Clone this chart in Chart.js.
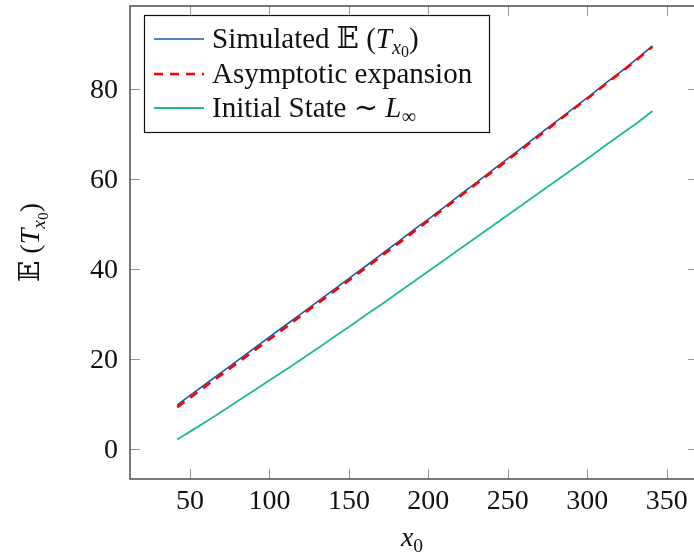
<!DOCTYPE html>
<html>
<head>
<meta charset="utf-8">
<script src="https://cdn.jsdelivr.net/npm/chart.js"></script>
<style>
  html, body { margin: 0; padding: 0; background: #fff; overflow: hidden; }
  #wrap { width: 704px; height: 554px; }
</style>
</head>
<body>
<div id="wrap"><canvas id="chart" width="704" height="554"></canvas></div>
<script>
// x0 values and the three curves
const x0 = [42, 52, 62, 72, 82, 92, 102, 112, 122, 132, 142, 152, 162, 172, 182, 192,
            202, 212, 222, 232, 242, 252, 262, 272, 282, 292, 302, 312, 322, 332, 341];
const simulated = [9.8, 12.4, 15.0, 17.6, 20.2, 22.8, 25.4, 28.0, 30.6, 33.2, 35.8, 38.4,
                   41.0, 43.7, 46.3, 49.0, 51.6, 54.3, 57.0, 59.7, 62.4, 65.1, 67.8, 70.5,
                   73.2, 75.9, 78.6, 81.4, 84.1, 86.9, 89.6];
const asymptotic = [9.3, 11.9, 14.5, 17.1, 19.7, 22.3, 24.9, 27.5, 30.2, 32.8, 35.4, 38.0,
                    40.6, 43.3, 45.9, 48.6, 51.3, 54.0, 56.7, 59.4, 62.1, 64.8, 67.5, 70.2,
                    73.0, 75.7, 78.4, 81.2, 83.9, 86.7, 89.4];
const initialState = [2.1, 4.3, 6.5, 8.8, 11.1, 13.4, 15.7, 18.0, 20.4, 22.8, 25.2, 27.6,
                      30.1, 32.5, 35.0, 37.5, 40.0, 42.5, 45.0, 47.5, 50.0, 52.5, 55.0, 57.5,
                      60.0, 62.5, 65.0, 67.6, 70.1, 72.6, 75.1];
const xTicks = [50, 100, 150, 200, 250, 300, 350];
const yTicks = [0, 20, 40, 60, 80];

const SERIF = '"Liberation Serif", "DejaVu Serif", serif';
const FS = 28;
let textSize = 29;

function pts(ys) { return x0.map((x, i) => ({ x: x, y: ys[i] })); }

// text pieces: {t, it (italic), sub (subscript level)}
function fontFor(p) {
  const size = p.sub === 2 ? textSize * 0.55 : p.sub ? textSize * 0.7 : textSize;
  return (p.it ? 'italic ' : '') + size + 'px ' + SERIF;
}
function richWidth(ctx, parts) {
  let w = 0;
  parts.forEach(p => { ctx.font = fontFor(p); w += ctx.measureText(p.t).width; });
  return w;
}
function drawRich(ctx, parts, x, y) {
  ctx.textBaseline = 'alphabetic';
  ctx.textAlign = 'left';
  parts.forEach(p => {
    ctx.font = fontFor(p);
    const dy = p.sub === 2 ? 9 : p.sub ? 6 : 0;
    ctx.fillText(p.t, x, y + dy);
    x += ctx.measureText(p.t).width;
  });
}

const ET = [{ t: '\u{1D53C}' }, { t: ' (' }, { t: 'T', it: true }, { t: 'x', it: true, sub: 1 },
            { t: '0', sub: 2 }, { t: ')' }];

const frame = {
  id: 'frame',
  afterDraw(chart) {
    const ctx = chart.ctx, a = chart.chartArea;
    const xs = chart.scales.x, ys = chart.scales.y;
    ctx.save();
    // inward ticks on all four sides
    ctx.strokeStyle = '#999';
    ctx.lineWidth = 1;
    ctx.beginPath();
    xTicks.forEach(v => {
      const px = Math.round(xs.getPixelForValue(v)) + 0.5;
      ctx.moveTo(px, a.bottom); ctx.lineTo(px, a.bottom - 10);
      ctx.moveTo(px, a.top); ctx.lineTo(px, a.top + 10);
    });
    yTicks.forEach(v => {
      const py = Math.round(ys.getPixelForValue(v)) + 0.5;
      ctx.moveTo(a.left, py); ctx.lineTo(a.left + 10, py);
      ctx.moveTo(a.right, py); ctx.lineTo(a.right - 10, py);
    });
    ctx.stroke();
    ctx.strokeStyle = '#333';
    ctx.lineWidth = 1.3;
    ctx.strokeRect(a.left, a.top, a.right - a.left, a.bottom - a.top);

    // legend
    const lx = 144, ly = 15, lw = 345, lh = 117;
    ctx.fillStyle = '#fff';
    ctx.fillRect(lx, ly, lw, lh);
    ctx.strokeStyle = '#111';
    ctx.lineWidth = 1.2;
    ctx.strokeRect(lx + 0.5, ly + 0.5, lw, lh);
    const rows = [
      { y: 39, color: '#1a5aa8', dash: [], w: 1.6, parts: [{ t: 'Simulated ' }].concat(ET) },
      { y: 74, color: '#ff0000', dash: [9, 7], w: 2.6, parts: [{ t: 'Asymptotic expansion' }] },
      { y: 108, color: '#1fbb88', dash: [], w: 1.8, parts: [{ t: 'Initial State \u223C ' },
        { t: 'L', it: true }, { t: '\u221E', sub: 1 }] }
    ];
    textSize = 29;
    rows.forEach(r => {
      ctx.strokeStyle = r.color;
      ctx.lineWidth = r.w;
      ctx.setLineDash(r.dash);
      ctx.beginPath();
      ctx.moveTo(154, r.y); ctx.lineTo(204, r.y);
      ctx.stroke();
      ctx.setLineDash([]);
      ctx.fillStyle = '#111';
      drawRich(ctx, r.parts, 212, r.y + 9);
    });

    // axis titles
    textSize = 28;
    ctx.fillStyle = '#111';
    const xt = [{ t: 'x', it: true }, { t: '0', sub: 1 }];
    drawRich(ctx, xt, (a.left + 694) / 2 - richWidth(ctx, xt) / 2, 546);
    ctx.translate(39, (a.top + a.bottom) / 2);
    ctx.rotate(-Math.PI / 2);
    drawRich(ctx, ET, -richWidth(ctx, ET) / 2, 0);
    ctx.restore();
  }
};

new Chart(document.getElementById('chart'), {
  type: 'line',
  data: {
    datasets: [
      { label: 'Simulated', data: pts(simulated), borderColor: '#1a5aa8', borderWidth: 1.6, order: 1 },
      { label: 'Asymptotic expansion', data: pts(asymptotic), borderColor: '#ff0000', borderWidth: 2.6,
        borderDash: [9, 7], order: 0 },
      { label: 'Initial State', data: pts(initialState), borderColor: '#1fbb88', borderWidth: 1.8, order: 2 }
    ]
  },
  options: {
    responsive: false,
    animation: false,
    devicePixelRatio: 1,
    elements: { point: { radius: 0 }, line: { tension: 0 } },
    layout: { padding: { top: 6, right: 6, left: 0, bottom: 0 } },
    plugins: { legend: { display: false }, tooltip: { enabled: false } },
    scales: {
      x: {
        type: 'linear', min: 12.24, max: 369.7,
        afterBuildTicks: s => { s.ticks = xTicks.map(v => ({ value: v })); },
        afterFit: s => { s.height = 75; s.paddingLeft = 0; s.paddingRight = 0; },
        grid: { display: false, drawTicks: false },
        border: { display: false },
        ticks: { padding: 6, color: '#111', font: { family: SERIF, size: FS }, maxRotation: 0 }
      },
      y: {
        type: 'linear', min: -6.67, max: 98.44,
        afterBuildTicks: s => { s.ticks = yTicks.map(v => ({ value: v })); },
        afterFit: s => { s.width = 130; s.paddingTop = 0; s.paddingBottom = 0; },
        grid: { display: false, drawTicks: false },
        border: { display: false },
        ticks: { padding: 12, labelOffset: 2, color: '#111', font: { family: SERIF, size: FS } }
      }
    }
  },
  plugins: [frame]
});
</script>
</body>
</html>
